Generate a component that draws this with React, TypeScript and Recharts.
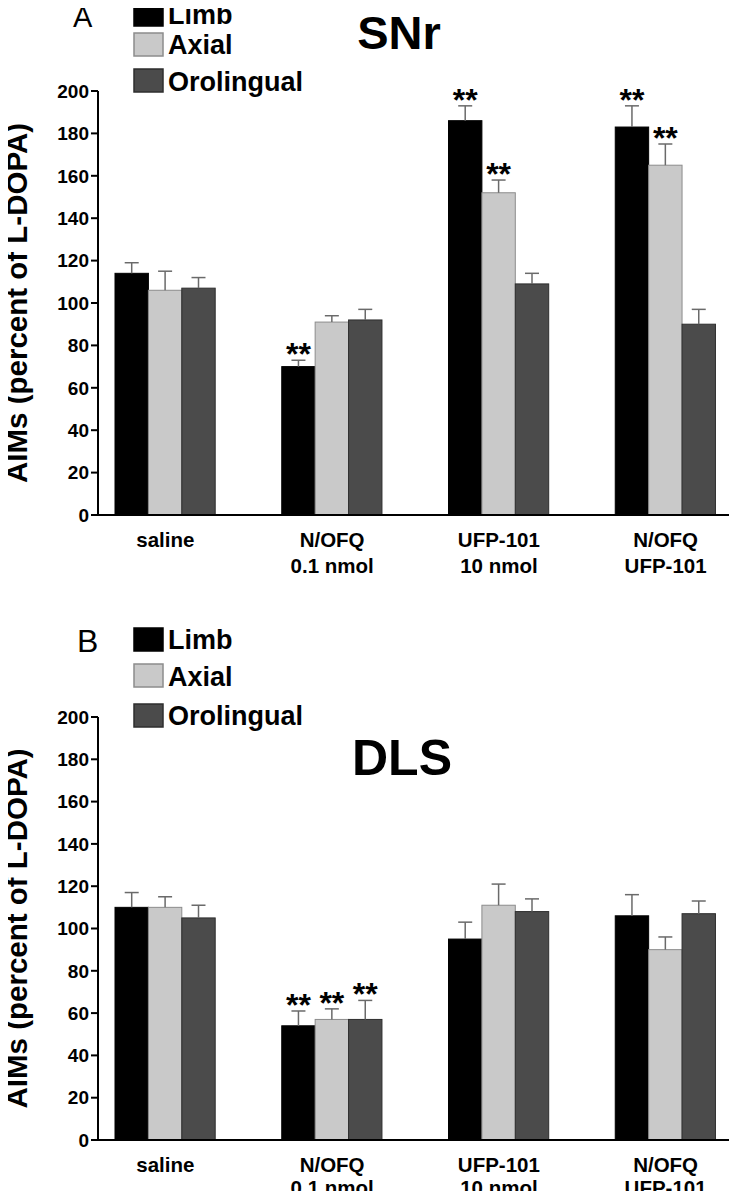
import React from "react";
import { BarChart, Bar, XAxis, YAxis } from "recharts";

const FONT = '"Liberation Sans", Arial, Helvetica, sans-serif';

// ---- categories / tick labels ----
const categories = ["saline", "N/OFQ 0.1 nmol", "UFP-101 10 nmol", "N/OFQ UFP-101"];
const tickLine1 = ["saline", "N/OFQ", "UFP-101", "N/OFQ"];
const tickLine2 = ["", "0.1 nmol", "10 nmol", "UFP-101"];
const yTicks = [0, 20, 40, 60, 80, 100, 120, 140, 160, 180, 200];

// ---- Panel A: SNr ----
const snrLimb = [114, 70, 186, 183];
const snrLimbErr = [5, 3, 7, 10];
const snrAxial = [106, 91, 152, 165];
const snrAxialErr = [9, 3, 6, 10];
const snrOro = [107, 92, 109, 90];
const snrOroErr = [5, 5, 5, 7];
const snrLimbStars = ["", "**", "**", "**"];
const snrAxialStars = ["", "", "**", "**"];
const snrOroStars = ["", "", "", ""];

// ---- Panel B: DLS ----
const dlsLimb = [110, 54, 95, 106];
const dlsLimbErr = [7, 7, 8, 10];
const dlsAxial = [110, 57, 111, 90];
const dlsAxialErr = [5, 5, 10, 6];
const dlsOro = [105, 57, 108, 107];
const dlsOroErr = [6, 9, 6, 6];
const dlsLimbStars = ["", "**", "", ""];
const dlsAxialStars = ["", "**", "", ""];
const dlsOroStars = ["", "**", "", ""];

const seriesNames = ["Limb", "Axial", "Orolingual"];
const COLORS = { limb: "#000000", axial: "#c9c9c9", oro: "#4b4b4b" };
const STROKES = { limb: "#000000", axial: "#8c8c8c", oro: "#2e2e2e" };

function buildRows(limb: number[], axial: number[], oro: number[]) {
  return categories.map((name, i) => ({ name, limb: limb[i], axial: axial[i], oro: oro[i] }));
}

function makeShape(errs: number[], stars: string[], fill: string, stroke: string) {
  return (props: any) => {
    const { x, y, width, height, index, value } = props;
    const v = Array.isArray(value) ? value[1] - value[0] : value;
    const ppu = v ? height / v : 0;
    const err = errs[index] || 0;
    const cx = x + width / 2;
    const errTop = y - err * ppu;
    const star = stars[index];
    return (
      <g>
        <rect x={x} y={y} width={width} height={height} fill={fill} stroke={stroke} strokeWidth={1} />
        <line x1={cx} x2={cx} y1={y} y2={errTop} stroke="#6a6a6a" strokeWidth={1.5} />
        <line x1={cx - 7} x2={cx + 7} y1={errTop} y2={errTop} stroke="#6a6a6a" strokeWidth={1.5} />
        {star ? (
          <text x={cx} y={errTop + 5} textAnchor="middle" fontFamily={FONT} fontWeight="bold" fontSize={32} fill="#000">
            {star}
          </text>
        ) : null}
      </g>
    );
  };
}

function makeXTick(line2Offset: number) {
  return (props: any) => {
    const { x, y, payload } = props;
    const i = categories.indexOf(payload.value);
    return (
      <g>
        <text x={x} y={y + 31.5} textAnchor="middle" fontFamily={FONT} fontWeight="bold" fontSize={20.5} fill="#000">
          {tickLine1[i]}
        </text>
        {tickLine2[i] ? (
          <text x={x} y={y + line2Offset} textAnchor="middle" fontFamily={FONT} fontWeight="bold" fontSize={20.5} fill="#000">
            {tickLine2[i]}
          </text>
        ) : null}
      </g>
    );
  };
}

const YLabel = (props: any) => {
  const vb = props.viewBox || {};
  const cy = vb.y + vb.height / 2;
  return (
    <text
      x={27}
      y={cy}
      transform={`rotate(-90, 27, ${cy})`}
      textAnchor="middle"
      fontFamily={FONT}
      fontWeight="bold"
      fontSize={29.5}
      fill="#000"
    >
      AIMs (percent of L-DOPA)
    </text>
  );
};

type PanelProps = {
  height: number;
  top: number;
  xAxisHeight: number;
  line2Offset: number;
  rows: any[];
  errs: number[][];
  stars: string[][];
  letter: string;
  letterX: number;
  letterY: number;
  letterSize: number;
  title: string;
  titleX: number;
  titleY: number;
  titleSize: number;
  legendSquares: number[];
  legendBaselines: number[];
};

function Panel(p: PanelProps) {
  const keys = ["limb", "axial", "oro"] as const;
  const XTick = makeXTick(p.line2Offset);
  return (
    <div style={{ position: "relative", width: 737, height: p.height }}>
      <BarChart
        width={737}
        height={p.height}
        data={p.rows}
        margin={{ top: p.top, right: 1, bottom: 0, left: 0 }}
        barGap={0}
        barSize={33.4}
      >
        <XAxis
          dataKey="name"
          type="category"
          interval={0}
          padding={{ left: -16, right: -13 }}
          height={p.xAxisHeight}
          axisLine={{ stroke: "#000", strokeWidth: 2 }}
          tickLine={false}
          tickSize={0}
          tickMargin={0}
          tick={XTick}
        />
        <YAxis
          type="number"
          domain={[0, 200]}
          ticks={yTicks}
          interval={0}
          width={98}
          axisLine={{ stroke: "#000", strokeWidth: 2 }}
          tickLine={{ stroke: "#000", strokeWidth: 2 }}
          tickSize={7}
          tickMargin={2}
          tick={{ fontFamily: FONT, fontWeight: "bold", fontSize: 19, fill: "#000" }}
          label={<YLabel />}
        />
        {keys.map((k, j) => (
          <Bar
            key={k}
            dataKey={k}
            name={seriesNames[j]}
            fill={COLORS[k]}
            stroke={STROKES[k]}
            isAnimationActive={false}
            shape={makeShape(p.errs[j], p.stars[j], COLORS[k], STROKES[k])}
          />
        ))}
      </BarChart>
      <svg
        width={737}
        height={p.height}
        style={{ position: "absolute", left: 0, top: 0, pointerEvents: "none" }}
      >
        <text x={p.letterX} y={p.letterY} fontFamily={FONT} fontSize={p.letterSize} fill="#000">
          {p.letter}
        </text>
        <text
          x={p.titleX}
          y={p.titleY}
          textAnchor="middle"
          fontFamily={FONT}
          fontWeight="bold"
          fontSize={p.titleSize}
          fill="#000"
        >
          {p.title}
        </text>
        {keys.map((k, j) => (
          <g key={k}>
            <rect
              x={134}
              y={p.legendSquares[j]}
              width={29}
              height={23}
              fill={COLORS[k]}
              stroke={STROKES[k]}
              strokeWidth={1.5}
            />
            <text
              x={168}
              y={p.legendBaselines[j]}
              fontFamily={FONT}
              fontWeight="bold"
              fontSize={27}
              fill="#000"
            >
              {seriesNames[j]}
            </text>
          </g>
        ))}
      </svg>
    </div>
  );
}

export default function App() {
  const rowsA = buildRows(snrLimb, snrAxial, snrOro);
  const rowsB = buildRows(dlsLimb, dlsAxial, dlsOro);
  return (
    <div style={{ margin: -8, width: 737, background: "#fff" }}>
      <Panel
        height={600}
        top={91}
        xAxisHeight={85}
        line2Offset={58}
        rows={rowsA}
        errs={[snrLimbErr, snrAxialErr, snrOroErr]}
        stars={[snrLimbStars, snrAxialStars, snrOroStars]}
        letter="A"
        letterX={73}
        letterY={27}
        letterSize={29}
        title="SNr"
        titleX={399}
        titleY={49}
        titleSize={47}
        legendSquares={[3, 33, 69]}
        legendBaselines={[24, 54, 91]}
      />
      <Panel
        height={599}
        top={117}
        xAxisHeight={59}
        line2Offset={55}
        rows={rowsB}
        errs={[dlsLimbErr, dlsAxialErr, dlsOroErr]}
        stars={[dlsLimbStars, dlsAxialStars, dlsOroStars]}
        letter="B"
        letterX={77}
        letterY={52}
        letterSize={32}
        title="DLS"
        titleX={402}
        titleY={175}
        titleSize={50}
        legendSquares={[28, 64, 104]}
        legendBaselines={[49, 86, 125]}
      />
    </div>
  );
}
